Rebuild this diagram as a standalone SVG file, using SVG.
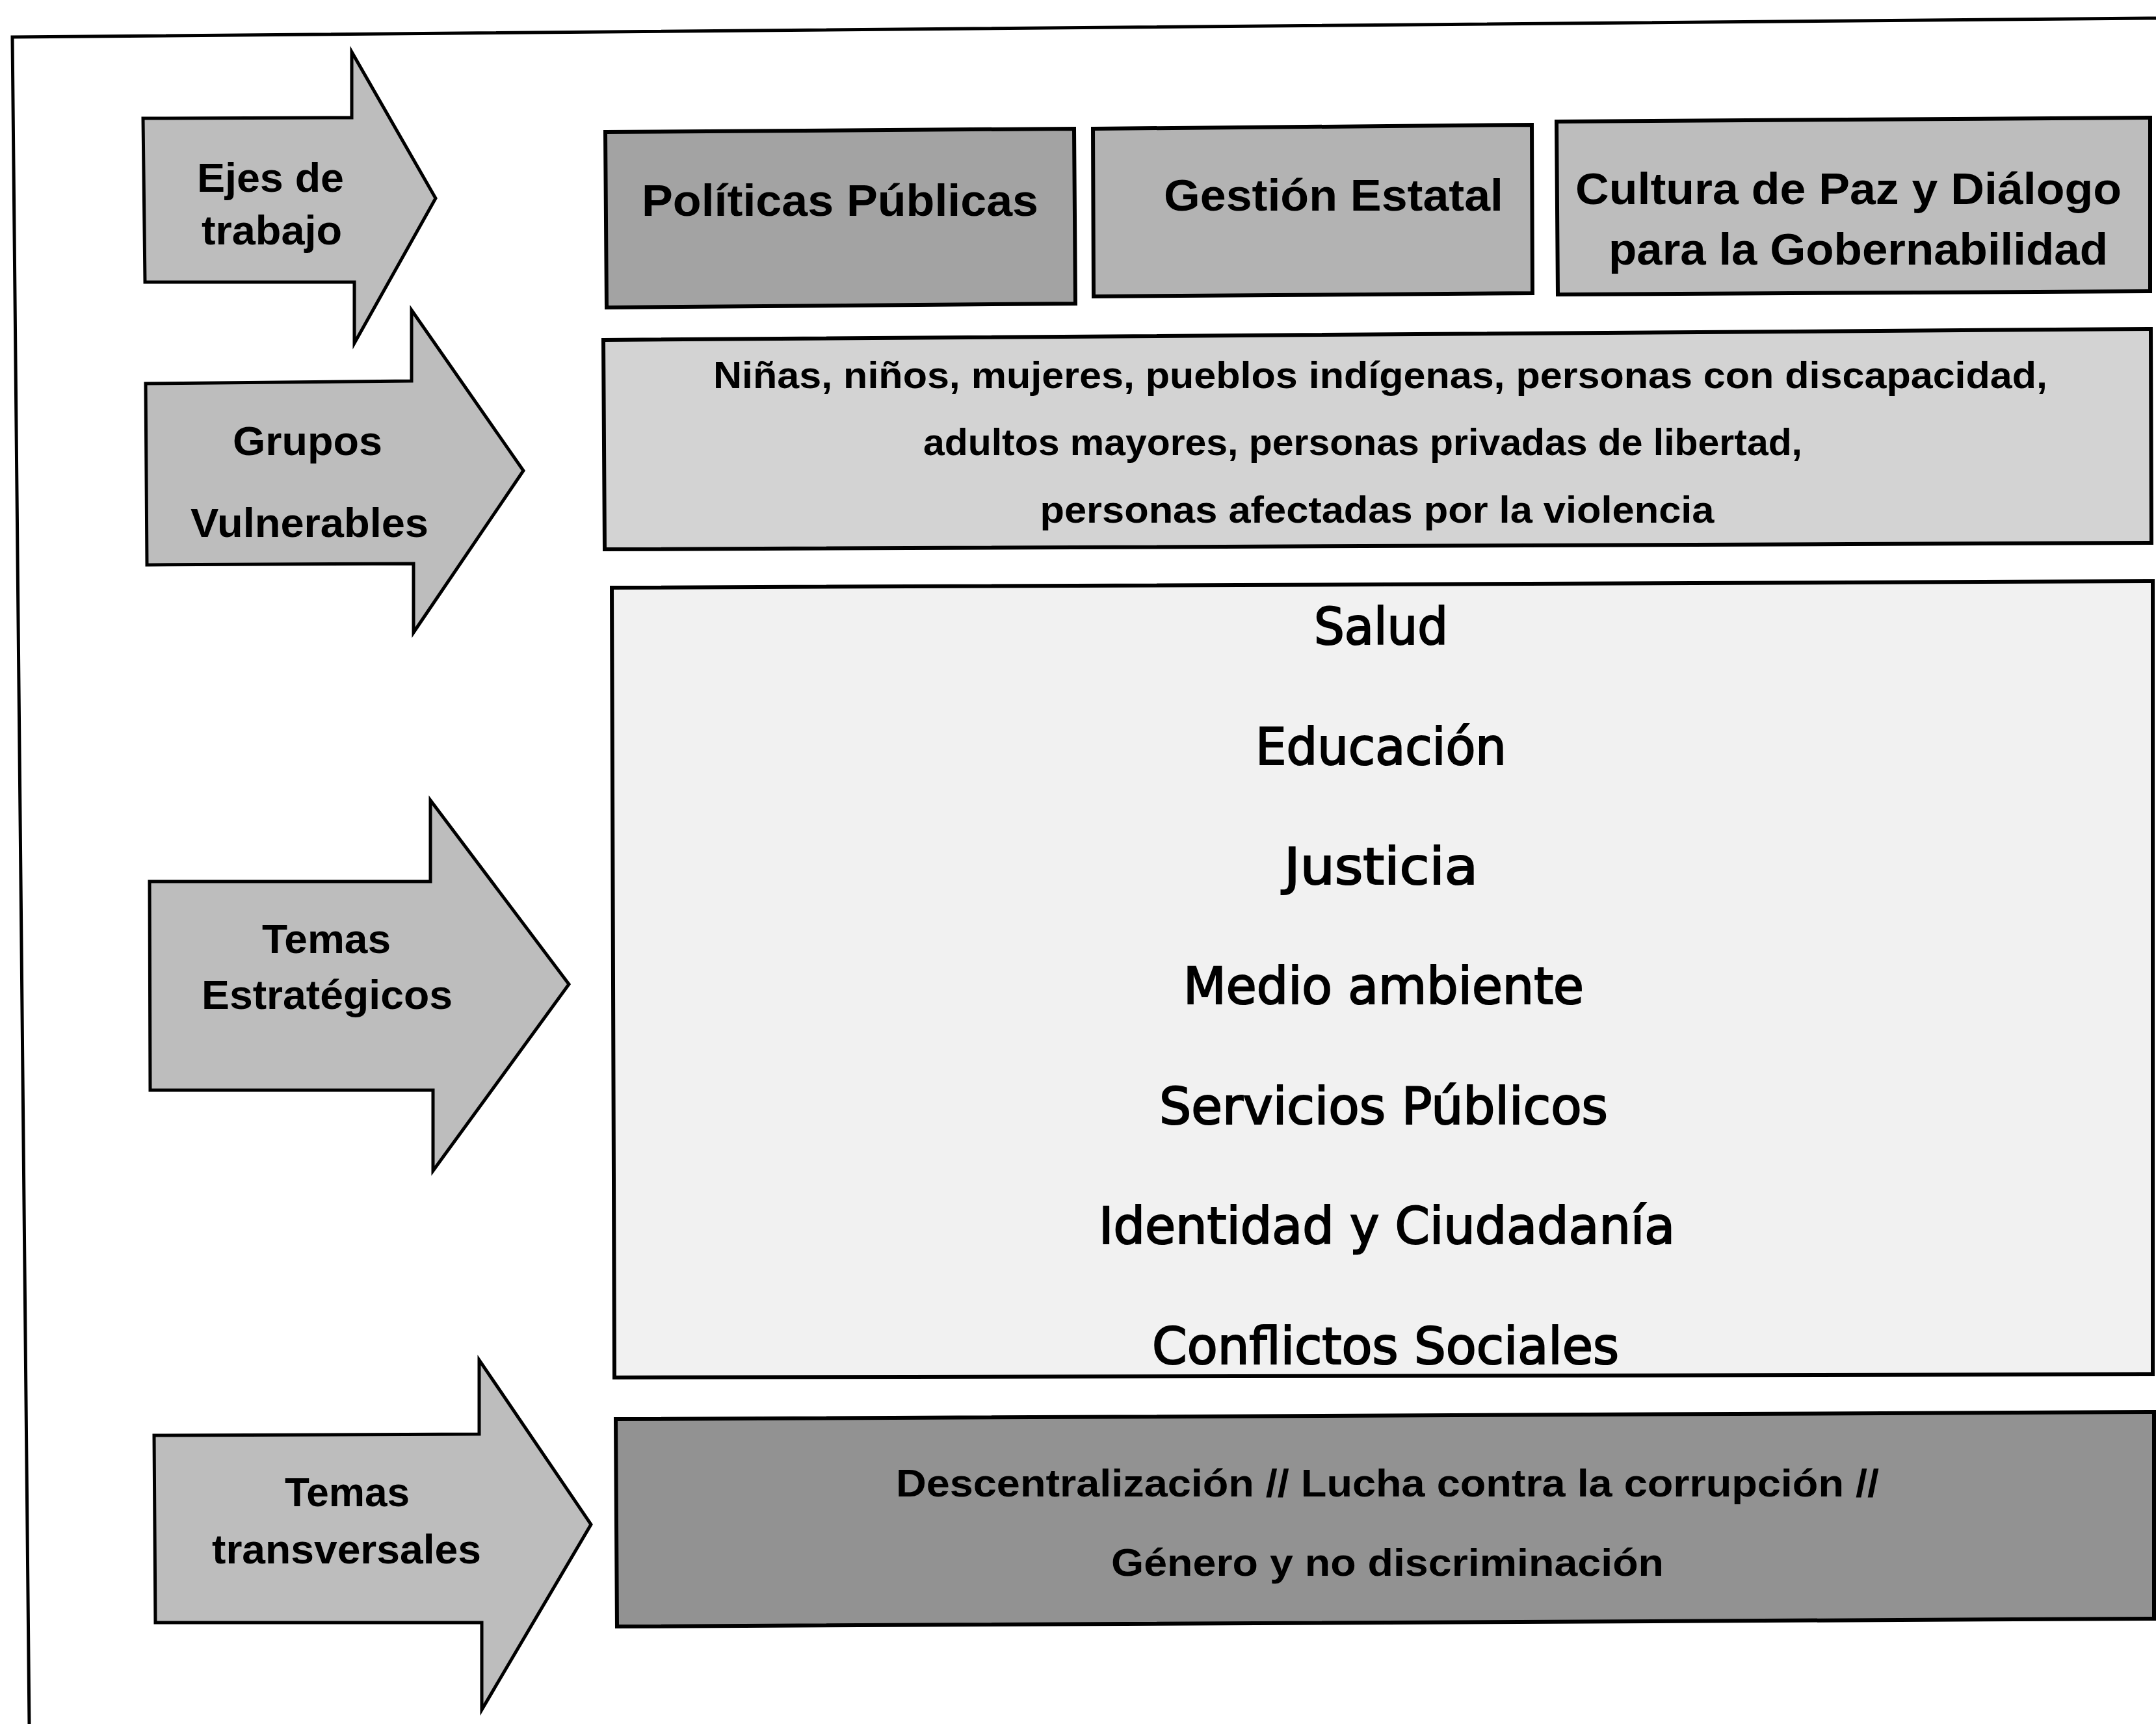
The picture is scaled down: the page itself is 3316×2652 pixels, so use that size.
<svg xmlns="http://www.w3.org/2000/svg" width="3316" height="2652" viewBox="0 0 3316 2652">
<style>
.frame{fill:none;stroke:#000;stroke-width:5}
.arrow{fill:#bdbdbd;stroke:#000;stroke-width:5;stroke-linejoin:miter}
.box{stroke:#000;stroke-width:6}
.lbl{font-family:"Liberation Sans",Arial,sans-serif;font-weight:bold;font-size:63px;fill:#000;text-anchor:middle}
.top{font-family:"Liberation Sans",Arial,sans-serif;font-weight:bold;font-size:69px;fill:#000;text-anchor:middle}
.grp{font-family:"Liberation Sans",Arial,sans-serif;font-weight:bold;font-size:58px;fill:#000;text-anchor:middle}
.trv{font-family:"Liberation Sans",Arial,sans-serif;font-weight:bold;font-size:60px;fill:#000;text-anchor:middle}
.tem{font-family:"DejaVu Sans","Noto Sans",sans-serif;font-size:78px;fill:#000;stroke:#000;stroke-width:2.2;text-anchor:middle}
</style>
<rect width="3316" height="2652" fill="#fff"/>
<g id="frame">
<polyline class="frame" points="3316,28 19,57 45,2652"/>
</g>
<g id="connectors"></g>
<g id="arrow-ejes">
<polygon class="arrow" points="220,182 541,181 541,80 670,305 545,528 545,434 223,434"/>
<text class="lbl" x="416" y="295" textLength="226" lengthAdjust="spacingAndGlyphs">Ejes de</text>
<text class="lbl" x="418" y="376" textLength="216" lengthAdjust="spacingAndGlyphs">trabajo</text>
</g>
<g id="arrow-grupos">
<polygon class="arrow" points="224,590 633,586 633,477 805,724 636,973 636,867 226,869"/>
<text class="lbl" x="473" y="700" textLength="230" lengthAdjust="spacingAndGlyphs">Grupos</text>
<text class="lbl" x="476" y="826" textLength="366" lengthAdjust="spacingAndGlyphs">Vulnerables</text>
</g>
<g id="arrow-temas">
<polygon class="arrow" points="230,1356 662,1356 662,1231 875,1514 666,1801 666,1677 231,1677"/>
<text class="lbl" x="502" y="1466" textLength="198" lengthAdjust="spacingAndGlyphs">Temas</text>
<text class="lbl" x="503" y="1552" textLength="386" lengthAdjust="spacingAndGlyphs">Estratégicos</text>
</g>
<g id="arrow-transversales">
<polygon class="arrow" points="237,2208 737,2206 737,2092 909,2345 741,2630 741,2496 239,2496"/>
<text class="lbl" x="534" y="2317" textLength="192" lengthAdjust="spacingAndGlyphs">Temas</text>
<text class="lbl" x="533" y="2405" textLength="414" lengthAdjust="spacingAndGlyphs">transversales</text>
</g>
<g id="box-politicas">
<polygon class="box" fill="#a3a3a3" points="931,203 1652,198 1654,467 933,473"/>
<text class="top" x="1292" y="332" textLength="610" lengthAdjust="spacingAndGlyphs">Políticas Públicas</text>
</g>
<g id="box-gestion">
<polygon class="box" fill="#b3b3b3" points="1681,198 2356,192 2357,451 1682,456"/>
<text class="top" x="2051" y="324" textLength="522" lengthAdjust="spacingAndGlyphs">Gestión Estatal</text>
</g>
<g id="box-cultura">
<polygon class="box" fill="#bdbdbd" points="2394,187 3307,181 3307,448 2396,453"/>
<text class="top" x="2843" y="314" textLength="840" lengthAdjust="spacingAndGlyphs">Cultura de Paz y Diálogo</text>
<text class="top" x="2858" y="407" textLength="768" lengthAdjust="spacingAndGlyphs">para la Gobernabilidad</text>
</g>
<g id="box-grupos">
<polygon class="box" fill="#d3d3d3" points="928,523 3308,506 3309,835 930,845"/>
<text class="grp" x="2123" y="597" textLength="2052" lengthAdjust="spacingAndGlyphs">Niñas, niños, mujeres, pueblos indígenas, personas con discapacidad,</text>
<text class="grp" x="2096" y="700" textLength="1352" lengthAdjust="spacingAndGlyphs">adultos mayores, personas privadas de libertad,</text>
<text class="grp" x="2118" y="804" textLength="1037" lengthAdjust="spacingAndGlyphs">personas afectadas por la violencia</text>
</g>
<g id="box-temas">
<polygon class="box" fill="#f1f1f1" points="941,904 3311,894 3311,2114 945,2119"/>
<text class="tem" x="2124" y="991" textLength="206" lengthAdjust="spacingAndGlyphs">Salud</text>
<text class="tem" x="2124" y="1176" textLength="386" lengthAdjust="spacingAndGlyphs">Educación</text>
<text class="tem" x="2124" y="1360" textLength="298" lengthAdjust="spacingAndGlyphs">Justicia</text>
<text class="tem" x="2128" y="1544" textLength="616" lengthAdjust="spacingAndGlyphs">Medio ambiente</text>
<text class="tem" x="2128" y="1729" textLength="690" lengthAdjust="spacingAndGlyphs">Servicios Públicos</text>
<text class="tem" x="2133" y="1913" textLength="886" lengthAdjust="spacingAndGlyphs">Identidad y Ciudadanía</text>
<text class="tem" x="2131" y="2098" textLength="718" lengthAdjust="spacingAndGlyphs">Conflictos Sociales</text>
</g>
<g id="box-transversales">
<polygon class="box" fill="#929292" points="947,2183 3313,2172 3313,2490 949,2502"/>
<text class="trv" x="2134" y="2302" textLength="1512" lengthAdjust="spacingAndGlyphs">Descentralización // Lucha contra la corrupción //</text>
<text class="trv" x="2134" y="2424" textLength="850" lengthAdjust="spacingAndGlyphs">Género y no discriminación</text>
</g>
</svg>
